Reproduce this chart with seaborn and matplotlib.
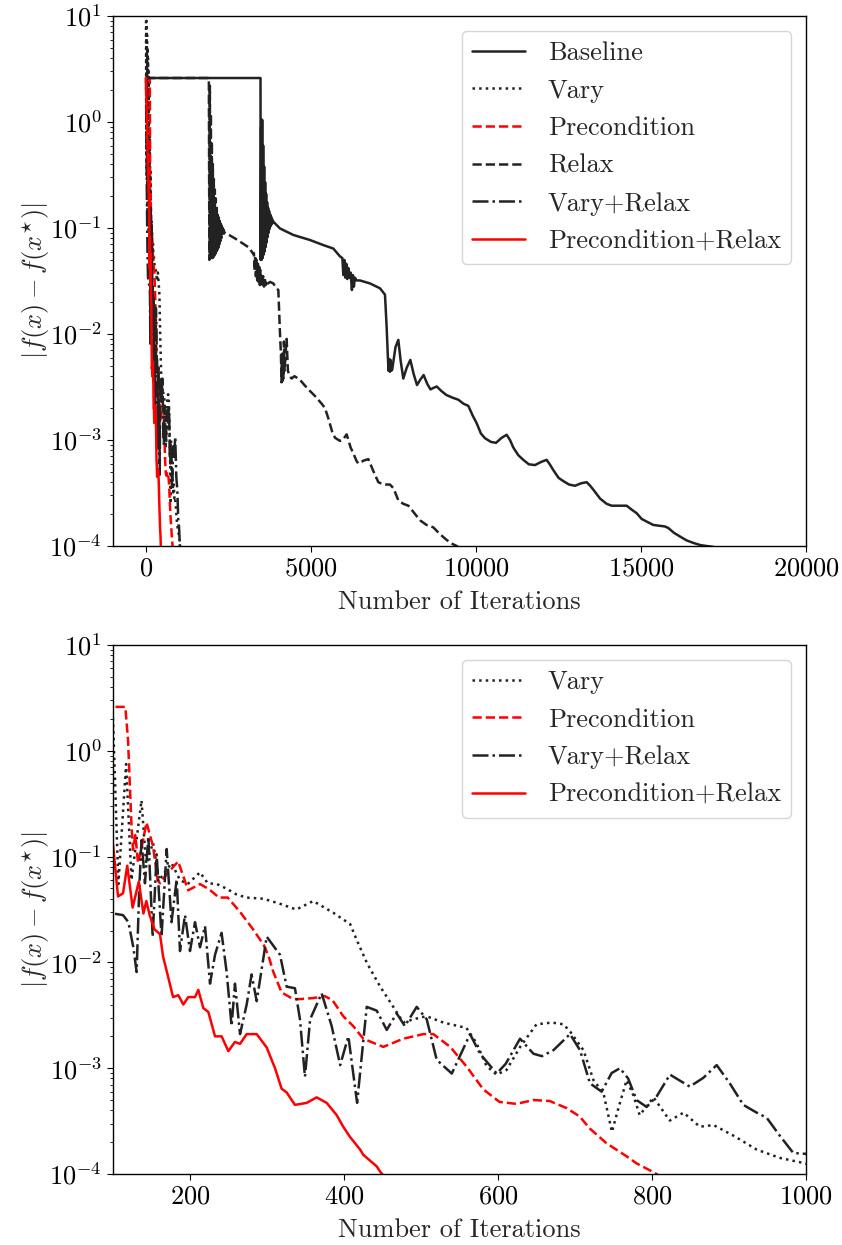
import matplotlib
matplotlib.use("Agg")
import matplotlib.pyplot as plt
import seaborn as sns

# ---------------- data ----------------
baseline_x = [0, 3470, 3475, 3490, 3505, 3520, 3535, 3550, 3565, 3580, 3595, 3610, 3625, 3640,
              3655, 3670, 3685, 3700, 3715, 3730, 3745, 3760, 3775, 3790, 3805, 3820, 3835, 3855,
              4060, 4464, 4970, 5373, 5676, 5878, 5950, 5980, 6010, 6040, 6070, 6100, 6130,
              6160, 6200, 6240, 6270, 6300, 6330, 6384, 6484, 6787, 7090, 7242,
              7292, 7330, 7350, 7370, 7390, 7410, 7430, 7460, 7560, 7646, 7720, 7797, 7900, 8010,
              8110, 8212, 8310, 8413, 8520, 8620, 8710, 8808, 8950, 9100, 9300, 9464, 9620, 9767,
              9900, 10020, 10150, 10272, 10450, 10605, 10780, 10929, 11030, 11130, 11280, 11433,
              11600, 11787, 11970, 12141, 12250, 12343, 12500, 12644, 12820, 12999, 13180, 13353,
              13460, 13555, 13760, 13959, 14110, 14262, 14420, 14565, 14720, 14868, 15020, 15171,
              15370, 15574, 15720, 15826, 16000, 16180, 16380, 16584, 16800, 16988, 17200]
baseline_y = [2.6, 2.6, 0.05, 0.9, 0.05, 1.05, 0.052, 0.6, 0.056, 0.38, 0.06, 0.27, 0.066, 0.21,
              0.073, 0.175, 0.082, 0.155, 0.09, 0.145, 0.098, 0.135, 0.104, 0.128, 0.108, 0.122,
              0.112, 0.115,
              0.099, 0.086, 0.077, 0.069, 0.064, 0.054, 0.052, 0.036, 0.05, 0.034, 0.046, 0.033,
              0.042, 0.034, 0.038, 0.026, 0.036, 0.028, 0.034, 0.032,
              0.032, 0.030, 0.027, 0.0235,
              0.0117, 0.006, 0.0045, 0.0058, 0.0044, 0.0057, 0.0045, 0.0046, 0.0075, 0.0088,
              0.0055, 0.0038, 0.0048, 0.0057, 0.0042, 0.0033, 0.0037, 0.0041, 0.0034, 0.0030,
              0.0031, 0.0032, 0.0029, 0.00266, 0.0025, 0.0024, 0.0022, 0.0021,
              0.0017, 0.00144, 0.00115, 0.00104, 0.00096, 0.00094, 0.00105, 0.00112, 0.0010,
              0.00085, 0.00072, 0.00065, 0.00059, 0.00058, 0.00062, 0.00065, 0.00058, 0.00052,
              0.00044, 0.00041, 0.00038, 0.00037, 0.00039, 0.0004, 0.00037, 0.00034, 0.00028,
              0.00025, 0.00024, 0.00024, 0.00024, 0.00024, 0.00022, 0.000204, 0.00018, 0.00017,
              0.000158, 0.000155, 0.000153, 0.000148, 0.000133, 0.000123, 0.000113, 0.000107,
              0.000102, 0.0001, 0.000098]

vary_x = [0, 8, 15, 22, 30, 38, 46, 54, 62, 70, 78, 86, 94, 100, 107, 117, 124, 137, 143, 152,
          160, 176, 187, 197, 213, 223, 235, 247, 260, 273, 295, 316, 338, 360, 386, 408, 417,
          430, 447, 464, 477, 490, 507, 529, 559, 572, 585, 598, 611, 629, 650, 670, 685, 694,
          711, 724, 737, 748, 756, 767, 776, 784, 802, 823, 841, 862, 880, 906, 936, 966, 999,
          1040, 1080]
vary_y = [12, 0.5, 9, 0.3, 7, 0.2, 5, 0.12, 4, 0.1, 3, 0.09, 2.5, 2.0, 0.055, 0.75, 0.06, 0.34,
          0.085, 0.135, 0.06, 0.087, 0.06, 0.055, 0.071, 0.056, 0.055, 0.05, 0.044, 0.041, 0.04,
          0.036, 0.0316, 0.038, 0.0295, 0.023, 0.016, 0.0098, 0.0059, 0.0038, 0.0027, 0.0029,
          0.0031, 0.0027, 0.0024, 0.00173, 0.00105, 0.00087, 0.00096, 0.0016, 0.0026, 0.0027,
          0.0026, 0.0022, 0.00148, 0.00077, 0.00058, 0.00025, 0.00041, 0.00077, 0.00055,
          0.00036, 0.00053, 0.00032, 0.00038, 0.00028, 0.00029, 0.00023, 0.00017, 0.000142,
          0.000126, 0.0001, 0.00008]

precond_x = [0, 116, 119.5, 124, 126, 129, 132.5, 137, 143.5, 152, 158, 161, 171, 184.6, 197.6,
             213, 225, 237.6, 249, 265, 282, 296, 302, 308, 319, 334, 343, 360, 375, 385, 399,
             412, 425, 451, 477, 503, 516, 538, 559, 581, 602, 624, 646, 667, 689, 706, 719,
             741, 767, 780, 804, 815]
precond_y = [2.6, 2.6, 1.27, 0.2, 0.116, 0.16, 0.087, 0.12, 0.21, 0.125, 0.06, 0.056, 0.07,
             0.09, 0.048, 0.055, 0.049, 0.041, 0.041, 0.030, 0.0205, 0.0145, 0.0115, 0.0082,
             0.0052, 0.0045, 0.0045, 0.0046, 0.0048, 0.0044, 0.0031, 0.0025, 0.0019, 0.00159,
             0.0019, 0.0021, 0.0021, 0.00159, 0.00104, 0.00063, 0.00048, 0.00046, 0.0005,
             0.00049, 0.00042, 0.00035, 0.00027, 0.000195, 0.000147, 0.000126, 0.000102, 0.00009]

relax_x = [0, 1905, 1920, 1935, 1950, 1965, 1980, 1995, 2010, 2025, 2040, 2055, 2070, 2085,
           2100, 2115, 2130, 2145, 2160, 2175, 2190, 2205, 2220, 2235, 2250, 2265, 2280, 2295,
           2310, 2325, 2340, 2355, 2370, 2394, 2545, 2747, 3100, 3252, 3270, 3290, 3310, 3330,
           3350, 3370, 3390, 3410, 3430, 3450, 3470, 3490, 3510, 3530, 3550, 3575, 3600, 3630,
           3660, 3700, 3760, 3858, 3950, 4010, 4060, 4090, 4105, 4120, 4135, 4150, 4165, 4180,
           4200, 4230, 4262, 4300, 4350, 4414, 4500, 4666, 4800, 4969, 5121, 5323, 5424, 5525,
           5640, 5727, 5878, 5960, 6081, 6200, 6282, 6384, 6434, 6600, 6737, 6900, 7040, 7200,
           7393, 7500, 7646, 7797, 7950, 8100, 8302, 8500, 8706, 8900, 9111, 9300, 9414, 9600]
relax_y = [2.6, 2.6, 0.05, 2.2, 0.05, 1.2, 0.05, 0.65, 0.052, 0.4, 0.053, 0.29, 0.055, 0.23,
           0.057, 0.19, 0.06, 0.16, 0.062, 0.14, 0.065, 0.13, 0.07, 0.12, 0.075, 0.112, 0.08,
           0.105, 0.084, 0.1, 0.087, 0.096, 0.089, 0.09, 0.085, 0.078, 0.066, 0.057, 0.058,
           0.04, 0.055, 0.035, 0.05, 0.032, 0.046, 0.03, 0.043, 0.029, 0.04, 0.028, 0.037, 0.028,
           0.035, 0.028, 0.033, 0.029, 0.032, 0.03, 0.031, 0.030, 0.027, 0.026, 0.0102, 0.0063,
           0.0035, 0.0065, 0.0036, 0.006, 0.0038, 0.0085, 0.0045, 0.0065, 0.009, 0.0045, 0.004,
           0.0038, 0.0040, 0.0037, 0.0033, 0.0029, 0.0026, 0.0022, 0.0020, 0.0016, 0.0012,
           0.00105, 0.00098, 0.0010, 0.00113, 0.00085, 0.00075, 0.00063, 0.0006, 0.00064,
           0.00066, 0.0005, 0.0004, 0.00038, 0.00038, 0.00035, 0.00027, 0.00025, 0.00024,
           0.00021, 0.000175, 0.000158, 0.00015, 0.00013, 0.000114, 0.000104, 0.0001, 0.00009]

varyrelax_x = [0, 15, 30, 45, 60, 80, 100, 113, 120, 126.4, 130.7, 134, 137, 141.5, 145.9,
               151.5, 156.7, 163, 169.7, 176, 182.7, 187, 193.5, 200, 206.5, 213, 219.5, 226,
               232.5, 241, 247.6, 254, 258.4, 265, 273.6, 280, 286.6, 299.6, 316.9, 325.5,
               336.3, 342.8, 349.3, 356, 371, 384, 395, 405.7, 417, 429.5, 442.5, 455.5, 468.4,
               479, 494.4, 507.4, 520.4, 540, 563.7, 576.7, 598.3, 610, 628.6, 646, 657, 672,
               693.5, 706.5, 719.4, 734.6, 747.6, 758.4, 769, 780, 793, 806, 823.3, 849, 866.6,
               884, 901, 918.6, 936, 949, 966, 983.5, 1000, 1020, 1040]
varyrelax_y = [2.6, 0.6, 0.15, 0.06, 0.035, 0.03, 0.029, 0.028, 0.024, 0.0139, 0.0081, 0.048,
               0.143, 0.056, 0.155, 0.0175, 0.105, 0.0175, 0.118, 0.024, 0.061, 0.0128, 0.028,
               0.0128, 0.024, 0.0139, 0.022, 0.0063, 0.0118, 0.019, 0.0081, 0.0025, 0.0063,
               0.0021, 0.0040, 0.0077, 0.0043, 0.0175, 0.0118, 0.0059, 0.0057, 0.0029, 0.00083,
               0.0029, 0.0051, 0.0025, 0.00107, 0.0020, 0.00047, 0.0038, 0.0035, 0.0023, 0.0033,
               0.0025, 0.0038, 0.0029, 0.0012, 0.00089, 0.0021, 0.00137, 0.00089, 0.0011, 0.0019,
               0.00137, 0.0013, 0.00148, 0.0021, 0.00148, 0.00072, 0.0006, 0.0009, 0.0010,
               0.0008, 0.0005, 0.00043, 0.00054, 0.00087, 0.00067, 0.00081, 0.00107, 0.00072,
               0.00045, 0.00038, 0.00034, 0.00023, 0.000158, 0.000155, 0.00011, 0.00008]

precrelax_x = [0, 50, 100, 106.5, 113, 118.5, 125.5, 133.5, 139.5, 143.3, 147.6, 154, 161, 165,
               171, 178, 184.8, 191.3, 197.8, 206.5, 210.8, 217.3, 223.8, 232.5, 241.1, 249.8,
               258.4, 265, 273.6, 286.6, 299.6, 310.4, 319, 325.5, 336.3, 351.5, 364.5, 377.5,
               390.5, 399, 407.8, 421, 425, 442.5, 447, 455]
precrelax_y = [2.6, 0.5, 0.13, 0.042, 0.045, 0.082, 0.033, 0.058, 0.029, 0.038, 0.028, 0.0205,
               0.0185, 0.0114, 0.0076, 0.0047, 0.0049, 0.0040, 0.0047, 0.0047, 0.0055, 0.0037,
               0.0034, 0.0020, 0.0020, 0.00145, 0.00177, 0.0017, 0.0021, 0.0021, 0.00157, 0.0010,
               0.00064, 0.00059, 0.00045, 0.00047, 0.00053, 0.00047, 0.00036, 0.00028, 0.000224,
               0.00017, 0.000152, 0.000118, 0.000105, 0.00009]

top_xticks = [0, 5000, 10000, 15000, 20000]
bottom_xticks = [200, 400, 600, 800, 1000]

# ---------------- style ----------------
sns.set_style("ticks")
FS = 19
plt.rcParams.update({
    "font.family": "serif",
    "font.serif": ["cmr10"],
    "mathtext.fontset": "cm",
    "axes.formatter.use_mathtext": True,
    "axes.unicode_minus": False,
    "axes.edgecolor": "black",
    "axes.linewidth": 1.0,
    "xtick.color": "black",
    "ytick.color": "black",
    "xtick.direction": "out",
    "ytick.direction": "out",
    "xtick.major.size": 4.5,
    "ytick.major.size": 4.5,
    "ytick.minor.size": 2.5,
    "font.size": FS,
    "axes.labelsize": FS,
    "xtick.labelsize": FS,
    "ytick.labelsize": FS,
    "legend.fontsize": FS,
})

BLACK = "#222222"
RED = "#ff0000"
LW = 1.8

series = {
    "Baseline": (baseline_x, baseline_y, BLACK, "-"),
    "Vary": (vary_x, vary_y, BLACK, ":"),
    "Precondition": (precond_x, precond_y, RED, "--"),
    "Relax": (relax_x, relax_y, BLACK, "--"),
    "Vary+Relax": (varyrelax_x, varyrelax_y, BLACK, "-."),
    "Precondition+Relax": (precrelax_x, precrelax_y, RED, "-"),
}

fig = plt.figure(figsize=(8.42, 12.45), dpi=100)
ax1 = fig.add_axes([113 / 842, 1 - 546 / 1245, 693 / 842, 530 / 1245])
ax2 = fig.add_axes([113 / 842, 1 - 1174 / 1245, 693 / 842, 529 / 1245])

for ax, names in [(ax1, ["Baseline", "Vary", "Precondition", "Relax", "Vary+Relax", "Precondition+Relax"]),
                  (ax2, ["Vary", "Precondition", "Vary+Relax", "Precondition+Relax"])]:
    ax.set_yscale("log")
    for name in names:
        xs, ys, col, ls = series[name]
        sns.lineplot(x=xs, y=ys, ax=ax, color=col, linestyle=ls, linewidth=LW,
                     label=name, estimator=None, sort=False)
    ax.set_ylim(1e-4, 1e1)
    ax.set_ylabel(r"$|f(x) - f(x^{\star})|$", labelpad=-2)
    ax.set_xlabel("Number of Iterations", labelpad=7)
    ax.legend(loc="upper right", frameon=True, fancybox=True, edgecolor="0.8",
              framealpha=0.8, handlelength=2.0, handletextpad=0.87, borderaxespad=0.55,
              labelspacing=0.53, borderpad=0.4)
    for s in ax.spines.values():
        s.set_visible(True)

ax1.set_xlim(-1000, 20000)
ax1.set_xticks(top_xticks)
ax2.set_xlim(100, 1000)
ax2.set_xticks(bottom_xticks)

fig.savefig("out.png", dpi=100)
